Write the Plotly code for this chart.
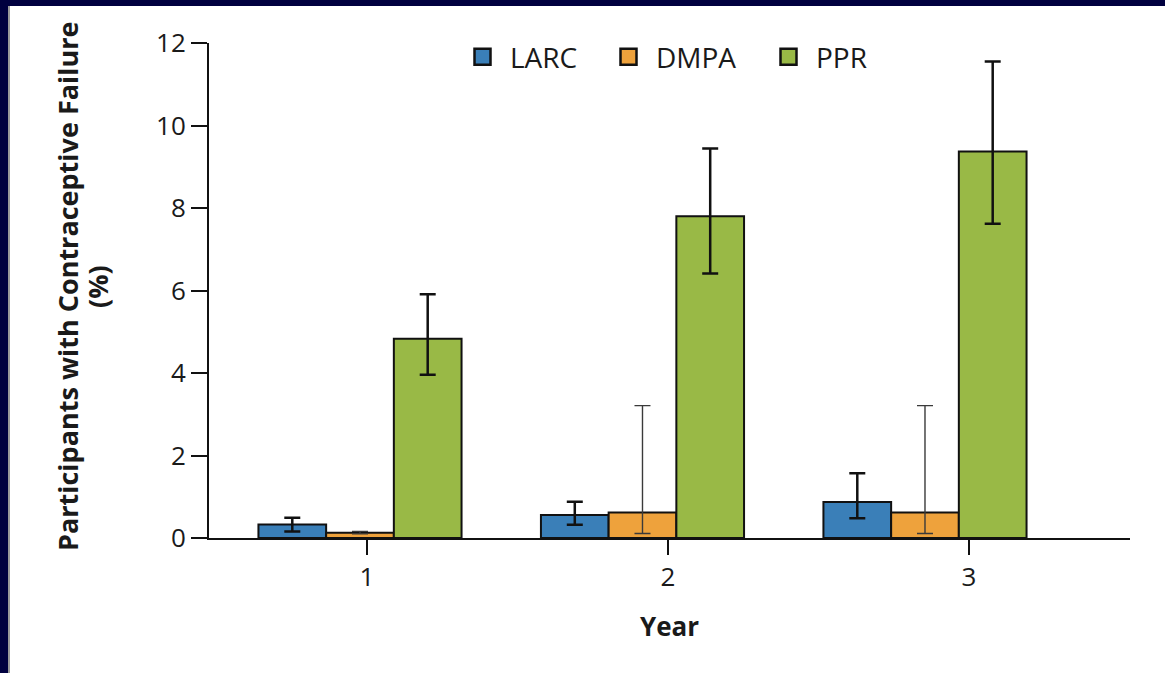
import plotly.graph_objects as go

years = [1, 2, 3]
year_labels = ["1", "2", "3"]
series = ["LARC", "DMPA", "PPR"]

larc = [0.33, 0.56, 0.87]
larc_hi = [0.49, 0.88, 1.57]
larc_lo = [0.16, 0.32, 0.48]

dmpa = [0.13, 0.62, 0.62]
dmpa_hi = [0.16, 3.21, 3.21]
dmpa_lo = [0.10, 0.11, 0.11]

ppr = [4.83, 7.80, 9.37]
ppr_hi = [5.91, 9.44, 11.55]
ppr_lo = [3.96, 6.41, 7.62]

y_title_line1 = "Participants with Contraceptive Failure"
y_title_line2 = "(%)"
x_title = "Year"

colors = ["#3a7fb8", "#eea23c", "#99b946"]
values = [larc, dmpa, ppr]
highs = [larc_hi, dmpa_hi, ppr_hi]
lows = [larc_lo, dmpa_lo, ppr_lo]
err_thick = [2.5, 1.4, 2.5]
err_col = ["#111111", "#3a3a3a", "#111111"]
legend_widths = [86, 100, 52]

FONT = "Open Sans"
TXT = "#1a1a1a"

fig = go.Figure()
for name, v, hi, lo, c, et, ec, lw in zip(series, values, highs, lows, colors,
                                          err_thick, err_col, legend_widths):
    fig.add_trace(go.Bar(
        x=years, y=v, name=name, showlegend=False,
        marker=dict(color=c, line=dict(color="#111111", width=2)),
        error_y=dict(type="data", symmetric=False,
                     array=[h - a for h, a in zip(hi, v)],
                     arrayminus=[a - l for l, a in zip(lo, v)],
                     color=ec, thickness=et, width=8),
    ))
    # legend proxy
    fig.add_trace(go.Scatter(
        x=[None], y=[None], mode="markers", name=name, legendwidth=lw,
        marker=dict(symbol="square", size=16, color=c,
                    line=dict(color="#111111", width=2.5)),
    ))

# invisible trace for tick-label axis
fig.add_trace(go.Scatter(x=years, y=[0, 0, 0], xaxis="x2", mode="markers",
                         marker=dict(opacity=0), showlegend=False, hoverinfo="skip"))

W, H = 1165, 673
L, R, T, B = 209, 35, 43, 135
pw = W - L - R
ph = H - T - B

def px_x(p):
    return (p - L) / pw

def px_y(p):
    return (H - B - p) / ph

shapes = [
    dict(type="rect", xref="paper", yref="paper", x0=px_x(-5), x1=px_x(8),
         y0=px_y(H + 5), y1=px_y(-5), fillcolor="#00003f", line=dict(width=0), layer="above"),
    dict(type="rect", xref="paper", yref="paper", x0=px_x(8), x1=px_x(10),
         y0=px_y(H + 5), y1=px_y(6), fillcolor="#9a9a9a", line=dict(width=0), layer="above"),
    dict(type="rect", xref="paper", yref="paper", x0=px_x(-5), x1=px_x(W + 5),
         y0=px_y(6), y1=px_y(-5), fillcolor="#00003f", line=dict(width=0), layer="above"),
]

annotations = [
    dict(text=y_title_line1, xref="paper", yref="paper", x=px_x(67), y=px_y(287),
         xanchor="center", yanchor="middle", textangle=-90, showarrow=False,
         font=dict(family=FONT, size=27, weight="bold", color=TXT)),
    dict(text=y_title_line2, xref="paper", yref="paper", x=px_x(97), y=px_y(287),
         xanchor="center", yanchor="middle", textangle=-90, showarrow=False,
         font=dict(family=FONT, size=27, weight="bold", color=TXT)),
]

fig.update_layout(
    width=W, height=H,
    margin=dict(l=L, r=R, t=T, b=B, pad=0),
    paper_bgcolor="white", plot_bgcolor="white",
    barmode="group", bargap=0.281, bargroupgap=0,
    font=dict(family=FONT, size=26, color=TXT),
    showlegend=True,
    legend=dict(orientation="h", x=px_x(455), xanchor="left", y=px_y(32), yanchor="top",
                font=dict(size=28, color=TXT), itemwidth=45,
                bgcolor="rgba(0,0,0,0)"),
    xaxis=dict(range=[0.4655, 3.7257], showticklabels=False, ticks="",
               showgrid=False, zeroline=False, showline=True,
               linecolor="#111111", linewidth=2),
    xaxis2=dict(overlaying="x", anchor="y", side="bottom",
                range=[0.475, 3.535], tickvals=years, ticktext=year_labels,
                ticks="outside", ticklen=16, tickwidth=2, tickcolor="#111111",
                showgrid=False, zeroline=False, showline=False,
                tickfont=dict(size=26, color=TXT),
                title=dict(text=x_title, standoff=24,
                           font=dict(size=26, weight="bold", color=TXT))),
    yaxis=dict(range=[0, 12], tickvals=[0, 2, 4, 6, 8, 10, 12],
               ticks="outside", ticklen=16, tickwidth=2, tickcolor="#111111",
               showgrid=False, zeroline=False, showline=True,
               linecolor="#111111", linewidth=2,
               tickfont=dict(size=26, color=TXT)),
    shapes=shapes,
    annotations=annotations,
)

fig.write_html("out.html",
               config={"displayModeBar": False},
               post_script="document.body.style.margin='0';document.body.style.overflow='hidden';")
